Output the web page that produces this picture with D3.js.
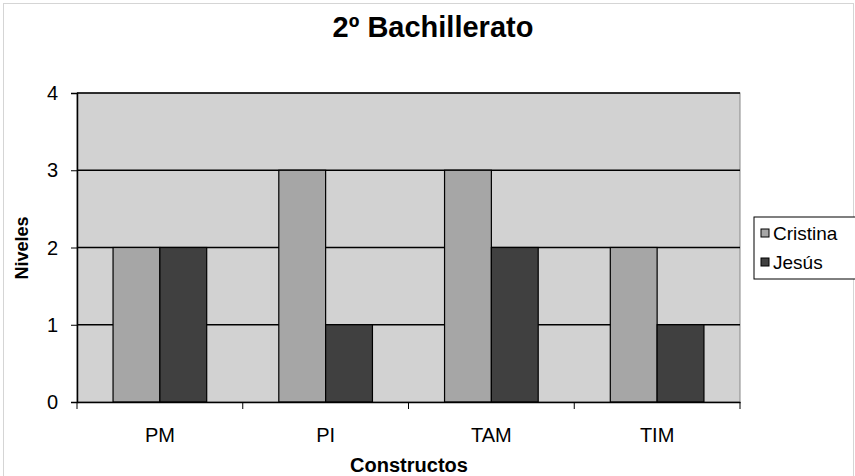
<!DOCTYPE html>
<html>
<head>
<meta charset="utf-8">
<script src="https://cdn.jsdelivr.net/npm/d3@7"></script>
<style>
  body { margin: 0; background: #fff; overflow: hidden; }
  svg { display: block; }
  text { font-family: "Liberation Sans", Arial, sans-serif; fill: #000; }
</style>
</head>
<body>
<div id="plot"></div>
<script>
// chart data
const categories = ["PM", "PI", "TAM", "TIM"];
const seriesNames = ["Cristina", "Jesús"];
const cristina = [2, 3, 3, 2];
const jesus = [2, 1, 2, 1];
const yTicks = [0, 1, 2, 3, 4];

const width = 855;
const height = 476;
const margin = {top: 93, right: 115, bottom: 74, left: 77};
const innerWidth = width - margin.left - margin.right;
const innerHeight = height - margin.top - margin.bottom;

const colors = {"Cristina": "#a6a6a6", "Jesús": "#404040"};

const svg = d3.select("div#plot")
  .append("svg")
    .attr("width", width)
    .attr("height", height);

// outer chart border (dotted)
svg.append("rect")
    .attr("x", 3.5).attr("y", 3.5)
    .attr("width", width - 5).attr("height", height + 10)
    .attr("fill", "none")
    .attr("stroke", "#aaa")
    .attr("stroke-dasharray", "1,1");

const g = svg.append("g").attr("transform", `translate(${margin.left}, ${margin.top})`);

const xScale = d3.scaleBand()
    .domain(categories)
    .range([0, innerWidth]);

const xInner = d3.scaleBand()
    .domain(seriesNames)
    .range([0, xScale.bandwidth()])
    .paddingInner(0)
    .paddingOuter(0.77);

const yScale = d3.scaleLinear()
    .domain([0, 4])
    .range([innerHeight, 0]);

// plot area background
g.append("rect")
    .attr("width", innerWidth)
    .attr("height", innerHeight)
    .attr("fill", "#d2d2d2")
    .attr("stroke", "#888")
    .attr("stroke-width", 1);

// gridlines
g.selectAll("line.grid")
  .data(yTicks.filter(d => d > 0))
  .join("line")
    .attr("class", "grid")
    .attr("x1", 0).attr("x2", innerWidth)
    .attr("y1", d => yScale(d)).attr("y2", d => yScale(d))
    .attr("stroke", "#000")
    .attr("stroke-width", 1.5);

// bars
const rows = categories.map((c, i) => ({cat: c, values: [
  {name: "Cristina", value: cristina[i]},
  {name: "Jesús", value: jesus[i]}
]}));

g.selectAll("g.group")
  .data(rows)
  .join("g")
    .attr("class", "group")
    .attr("transform", d => `translate(${xScale(d.cat)},0)`)
  .selectAll("rect")
  .data(d => d.values)
  .join("rect")
    .attr("x", d => xInner(d.name))
    .attr("y", d => yScale(d.value))
    .attr("width", xInner.bandwidth())
    .attr("height", d => innerHeight - yScale(d.value))
    .attr("fill", d => colors[d.name])
    .attr("stroke", "#000")
    .attr("stroke-width", 1.2);

// y axis (ticks from the axis, labels placed with the scale)
const yAxis = g.append("g")
    .call(d3.axisLeft(yScale).tickValues(yTicks).tickFormat("").tickSize(6));
yAxis.select(".domain").attr("stroke-width", 1.5);
g.selectAll("text.ylab")
  .data(yTicks)
  .join("text")
    .attr("class", "ylab")
    .attr("x", -19)
    .attr("y", d => yScale(d) + 7)
    .attr("text-anchor", "end")
    .style("font-size", "20px")
    .text(d => d);

// x axis with ticks at category boundaries
const xAxis = g.append("g")
    .attr("transform", `translate(0, ${innerHeight})`)
    .call(d3.axisBottom(xScale).tickSize(0).tickFormat(""));
xAxis.select(".domain").attr("stroke-width", 1.5);
xAxis.selectAll("line.bound")
  .data(categories.concat([null]))
  .join("line")
    .attr("class", "bound")
    .attr("x1", (d, i) => i * xScale.step()).attr("x2", (d, i) => i * xScale.step())
    .attr("y1", 0).attr("y2", 7)
    .attr("stroke", "#000");
g.selectAll("text.xlab")
  .data(categories)
  .join("text")
    .attr("class", "xlab")
    .attr("x", d => xScale(d) + xScale.bandwidth() / 2)
    .attr("y", innerHeight + 40)
    .attr("text-anchor", "middle")
    .style("font-size", "20px")
    .text(d => d);

// title
svg.append("text")
    .attr("x", 433).attr("y", 37)
    .attr("text-anchor", "middle")
    .style("font-size", "29px")
    .style("font-weight", "bold")
    .text("2º Bachillerato");

// axis titles
svg.append("text")
    .attr("x", 409)
    .attr("y", 472)
    .attr("text-anchor", "middle")
    .style("font-size", "20px")
    .style("font-weight", "bold")
    .text("Constructos");

svg.append("text")
    .attr("transform", `translate(28, 248) rotate(-90)`)
    .attr("text-anchor", "middle")
    .style("font-size", "18px")
    .style("font-weight", "bold")
    .text("Niveles");

// legend
const legend = svg.append("g").attr("transform", "translate(754, 217)");
legend.append("rect")
    .attr("width", 110).attr("height", 62)
    .attr("fill", "#fff")
    .attr("stroke", "#000");
seriesNames.forEach((name, i) => {
  const row = legend.append("g").attr("transform", `translate(7, ${16 + i * 29})`);
  row.append("rect")
    .attr("x", 0).attr("y", -4)
    .attr("width", 8).attr("height", 8)
    .attr("fill", colors[name])
    .attr("stroke", "#000");
  row.append("text")
    .attr("x", 12).attr("y", 7)
    .style("font-size", "19px")
    .text(name);
});
</script>
</body>
</html>
